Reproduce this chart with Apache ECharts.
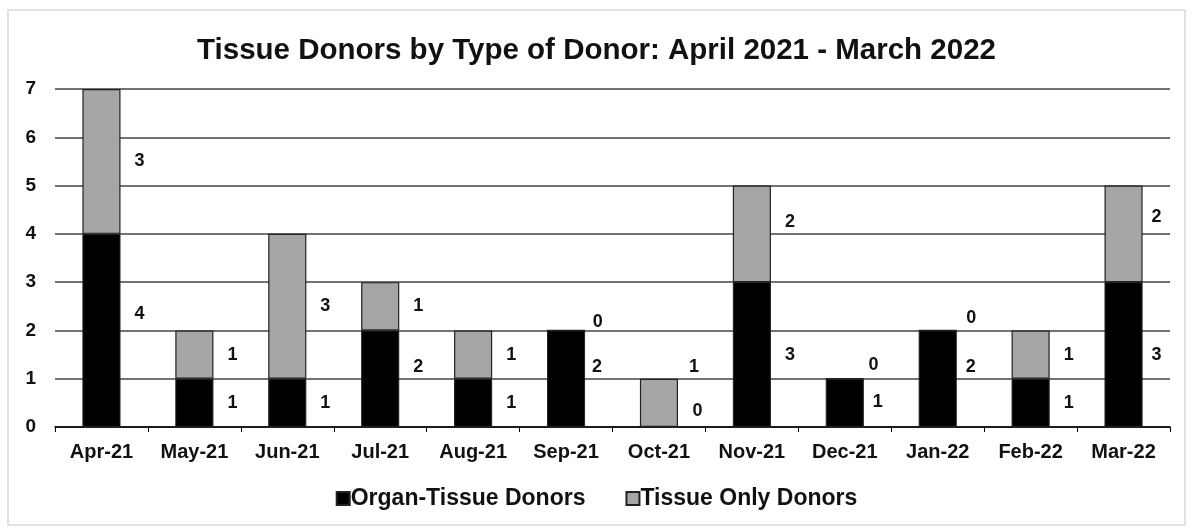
<!DOCTYPE html>
<html>
<head>
<meta charset="utf-8">
<script src="https://cdn.jsdelivr.net/npm/echarts@6/dist/echarts.min.js"></script>
<style>
html,body{margin:0;padding:0;background:#fff;}
#chart{width:1193px;height:531px;}
</style>
</head>
<body>
<div id="chart"></div>
<script>
const categories = ['Apr-21','May-21','Jun-21','Jul-21','Aug-21','Sep-21','Oct-21','Nov-21','Dec-21','Jan-22','Feb-22','Mar-22'];
const organTissue = [4,1,1,2,1,2,0,3,1,2,1,3];
const tissueOnly = [3,1,3,1,1,0,1,2,0,0,1,2];
const yTicks = [0,1,2,3,4,5,6,7];

// label nudges [dx, dy] in px, by category index
const organNudge = {0:[0,-16], 3:[0,-12], 5:[-7,-12], 6:[0,-16], 8:[-5,-1], 9:[-5,-12], 11:[-5,0]};
const tissueNudge = {5:[-7,-8], 6:[-3,-36], 7:[0,-12], 8:[-10,-14], 9:[-5,-12], 11:[-5,-17]};

const chart = echarts.init(document.getElementById('chart'));
const font = '"Liberation Sans", Arial, sans-serif';

function build(vals, nudge){
  return vals.map((v,i)=>{
    const item = {value:v};
    if (nudge[i] !== undefined) item.label = {offset:nudge[i]};
    return item;
  });
}
const labelStyle = {show:true, position:'right', distance:14, color:'#111', fontFamily:font, fontWeight:'bold', fontSize:18};

chart.setOption({
  animation:false,
  backgroundColor:'#fff',
  graphic:[{type:'rect', shape:{x:8,y:10,width:1177,height:515}, style:{fill:'none', stroke:'#d9d9d9', lineWidth:1.5}}],
  title:{text:'Tissue Donors by Type of Donor: April 2021 - March 2022', left:'center', top:31,
    textStyle:{fontFamily:font, fontWeight:'bold', fontSize:29.5, color:'#111'}},
  legend:{bottom:16, left:'center', itemWidth:13, itemHeight:13, itemGap:40,
    textStyle:{fontFamily:font, fontWeight:'bold', fontSize:23, color:'#111', padding:[0,0,0,-4]},
    data:[{name:'Organ-Tissue Donors', icon:'rect'},{name:'Tissue Only Donors', icon:'rect'}]},
  grid:{left:55, right:23, top:89, bottom:104},
  xAxis:{type:'category', data:categories,
    axisLine:{lineStyle:{color:'#000', width:1.5}},
    axisTick:{show:true, length:5, lineStyle:{color:'#000'}},
    axisLabel:{color:'#111', fontFamily:font, fontWeight:'bold', fontSize:20, margin:15}},
  yAxis:{type:'value', min:0, max:7, interval:1,
    axisLine:{show:false}, axisTick:{show:false},
    axisLabel:{color:'#111', fontFamily:font, fontWeight:'bold', fontSize:19, margin:19,
      formatter:v=>yTicks.includes(v)?String(v):''},
    splitLine:{lineStyle:{color:'#444', width:1.5}}},
  series:[
    {name:'Organ-Tissue Donors', type:'bar', stack:'total', barWidth:'41%',
      itemStyle:{color:'#000', borderColor:'#222', borderWidth:1},
      label:labelStyle, data:build(organTissue, organNudge)},
    {name:'Tissue Only Donors', type:'bar', stack:'total', barWidth:'41%',
      itemStyle:{color:'#a6a6a6', borderColor:'#222', borderWidth:1.2},
      label:labelStyle, data:build(tissueOnly, tissueNudge)}
  ]
});
</script>
</body>
</html>
